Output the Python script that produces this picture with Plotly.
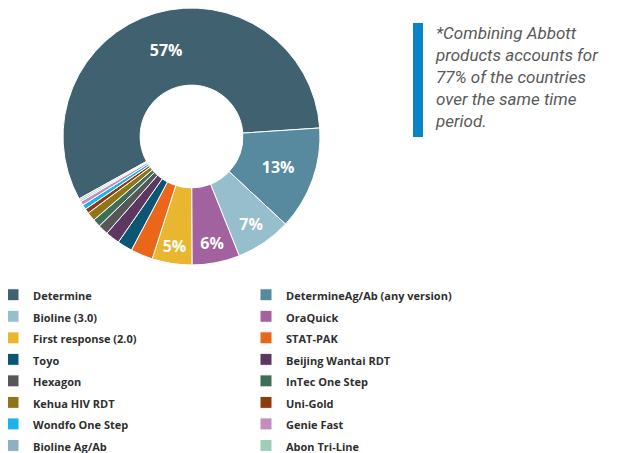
import plotly.graph_objects as go

products = [
    "Determine", "DetermineAg/Ab (any version)", "Bioline (3.0)", "OraQuick",
    "First response (2.0)", "STAT-PAK", "Toyo", "Beijing Wantai RDT",
    "Hexagon", "InTec One Step", "Kehua HIV RDT", "Uni-Gold",
    "Wondfo One Step", "Genie Fast", "Bioline Ag/Ab", "Abon Tri-Line",
]
shares = [57, 13, 7, 6, 5, 2.8, 1.9, 1.8, 1.3, 1.0, 1.1, 0.6, 0.6, 0.5, 0.2, 0.2]
colors = [
    "#3F6170", "#578A9E", "#97BECC", "#A2619F", "#E9B62F", "#EA6619",
    "#0B5674", "#5B3762", "#575757", "#3F6D5A", "#8F7519", "#8C3A0F",
    "#1CB3EB", "#C38DC0", "#8DB0C2", "#9FCDB8",
]
note = ("*Combining Abbott<br>products accounts for<br>77% of the countries"
        "<br>over the same time<br>period.")

slice_text = [f"<b>{v:.0f}%</b>" if v >= 5 else "" for v in shares]
legend_labels = [f"<span style='font-size:11px'><b>{n}</b></span>" for n in products]

# page has an 8px body margin; size the figure to fit the window exactly
OFF = 8
W, H = 617 - OFF, 453 - OFF
HP = 270                      # plot-area height (legend sits below it)
MB = H - HP


def px(x):
    return (x - OFF) / W


def py(y):
    return 1 - (y - OFF) / HP


fig = go.Figure(go.Pie(
    labels=legend_labels,
    values=shares,
    text=slice_text,
    textinfo="text",
    textposition="inside",
    insidetextorientation="horizontal",
    insidetextfont=dict(family="Open Sans", size=16, color="white"),
    marker=dict(colors=colors, line=dict(color="white", width=1)),
    hole=0.4,
    sort=False,
    direction="clockwise",
    rotation=241,
    domain=dict(x=[px(63), px(320)], y=[py(265), py(8)]),
    hovertemplate="%{label}: %{value}%<extra></extra>",
))

fig.add_shape(type="rect", xref="paper", yref="paper",
              x0=px(413), x1=px(423), y0=py(137), y1=py(23),
              fillcolor="#0A84C6", line=dict(width=0))

fig.add_annotation(
    xref="paper", yref="paper", x=px(433), y=py(21),
    xanchor="left", yanchor="top", align="left", showarrow=False,
    text="<i>" + note + "</i>",
    font=dict(family="Roboto", size=17, color="#595959"),
)

fig.update_layout(
    width=W, height=H,
    margin=dict(l=0, r=0, t=0, b=MB, autoexpand=False),
    paper_bgcolor="white", plot_bgcolor="white",
    legend=dict(
        orientation="h", x=px(-7), xanchor="left", y=py(279), yanchor="top",
        entrywidth=208, entrywidthmode="pixels",
        font=dict(family="Open Sans", size=14.25, color="#2F2F2F"),
        traceorder="normal",
    ),
    showlegend=True,
)

fig.write_html("out.html")
